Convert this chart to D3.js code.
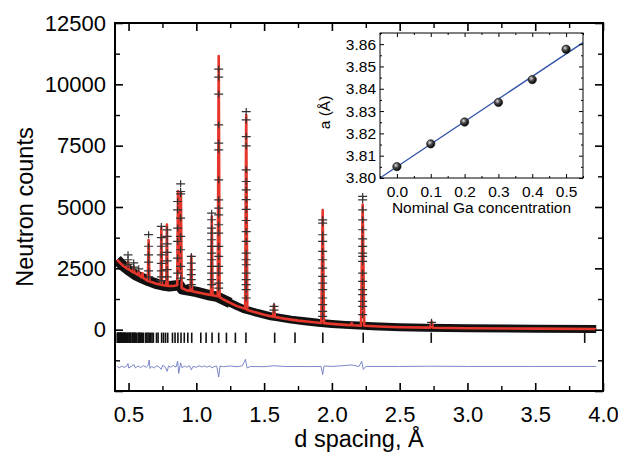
<!DOCTYPE html>
<html>
<head>
<meta charset="utf-8">
<script src="https://cdn.jsdelivr.net/npm/d3@7"></script>
<style>
  body { margin: 0; background: #fff; }
  svg { display: block; font-family: "Liberation Sans", Arial, sans-serif; }
</style>
</head>
<body>
<svg id="chart" width="618" height="457"></svg>
<script>
// ---- data ----

// background of the observed pattern (the thick black band)
const bgD = [0.415, 0.45, 0.5, 0.55, 0.6, 0.65, 0.7, 0.75, 0.8, 0.85, 0.875, 0.895, 0.95, 1.0, 1.05, 1.1, 1.15, 1.2,
             1.25, 1.3, 1.35, 1.4, 1.45, 1.5, 1.55, 1.6, 1.7, 1.8, 1.9, 2.0, 2.1, 2.2, 2.3, 2.4, 2.5, 2.7, 3.0, 3.5, 3.95];
const bgCounts = [2850, 2650, 2420, 2230, 2100, 1980, 1880, 1810, 1770, 1800, 1830, 1640, 1590, 1540, 1470, 1400, 1350, 1220,
                  1090, 960, 840, 760, 680, 610, 545, 500, 410, 340, 280, 235, 195, 165, 140, 115, 100, 80, 60, 40, 30];

// calculated profile (red line)
const calcD = [0.415, 0.45, 0.49, 0.496, 0.502, 0.533, 0.538, 0.543, 0.57, 0.575, 0.58, 0.598, 0.603, 0.608,
               0.642, 0.648, 0.654, 0.70, 0.737, 0.742, 0.747, 0.778, 0.783, 0.788, 0.83, 0.859, 0.865, 0.872,
               0.881, 0.886, 0.892, 0.93, 0.957, 0.963, 0.969, 1.0, 1.05, 1.108, 1.114, 1.120, 1.158, 1.165, 1.172,
               1.2, 1.25, 1.3, 1.36, 1.368, 1.376, 1.42, 1.5, 1.566, 1.573, 1.580, 1.65, 1.75, 1.85, 1.922, 1.932,
               1.942, 2.0, 2.1, 2.14, 2.146, 2.152, 2.215, 2.227, 2.239, 2.35, 2.5, 2.725, 2.735, 2.745, 3.0, 3.5, 3.95];
const calcCounts = [2850, 2650, 2480, 2780, 2460, 2340, 2560, 2320, 2230, 2380, 2210, 2130, 2300, 2110,
                    1990, 3650, 1970, 1880, 1830, 4140, 1820, 1790, 4280, 1780, 1780, 1810, 5650, 2400,
                    2300, 5600, 1700, 1600, 1580, 3010, 1570, 1530, 1470, 1410, 4620, 1400, 1360, 11150, 1330,
                    1230, 1090, 960, 850, 8750, 800, 730, 610, 530, 1010, 520, 450, 370, 310, 275, 4880,
                    265, 235, 195, 180, 260, 178, 160, 5100, 158, 128, 100, 82, 330, 80, 60, 42, 30];

// observed points standing out above the background, grouped by reflection
const obsPeakD = [0.496, 0.538, 0.575, 0.648, 0.742, 0.785, 0.862, 0.884, 0.963, 1.113, 1.165, 1.368, 1.573, 1.932, 2.227, 2.735];
const obsPeakCounts = [
  [3050, 2850, 2650],
  [2720, 2550],
  [2480],
  [3870, 3400, 3050, 2750, 2400, 2150],
  [4210, 3750, 3400, 3050, 2700, 2400, 2150, 2000],
  [4070, 3800, 3500, 3150, 2800, 2450, 2150],
  [5225, 4886, 4140, 3597, 2920, 2308],
  [5945, 5632, 5538, 4548, 3800, 3258, 2578, 2100],
  [2985, 2715, 2443, 2240, 2036, 1832],
  [4750, 4480, 4140, 3937, 3665, 3394, 3123, 2850, 2578, 2308, 2036, 1832],
  [10616, 10290, 9600, 8347, 7600, 7330, 6108, 5294, 4955, 4683, 4276, 3937, 3394, 2986, 2579, 2308, 1900, 1697],
  [8890, 8551, 7872, 7493, 6515, 6040, 5701, 5300, 4900, 4450, 4000, 3597, 3123, 2850, 2647, 2308, 2036, 1832, 1629, 1290],
  [950, 800],
  [4479, 4344, 3868, 3597, 3190, 2850, 2512, 2172, 1900, 1629, 1290, 1018, 745, 542],
  [5430, 5294, 4886, 4479, 4072, 3700, 3394, 3123, 2986, 2783, 2308, 1967, 1629, 1425, 1152, 949, 611],
  [300]
];

// difference curve (obs - calc, shifted)
const diffD = [0.415, 0.43, 0.45, 0.47, 0.49, 0.496, 0.50, 0.52, 0.54, 0.55, 0.57, 0.59, 0.61, 0.63, 0.645, 0.652,
               0.658, 0.67, 0.69, 0.71, 0.73, 0.742, 0.75, 0.77, 0.785, 0.795, 0.81, 0.83, 0.85, 0.862, 0.87,
               0.884, 0.895, 0.91, 0.93, 0.95, 0.963, 0.975, 1.0, 1.02, 1.04, 1.06, 1.08, 1.1, 1.113, 1.13, 1.15,
               1.165, 1.175, 1.2, 1.25, 1.3, 1.34, 1.362, 1.375, 1.4, 1.5, 1.573, 1.65, 1.8, 1.92, 1.932, 1.942,
               2.0, 2.146, 2.2, 2.22, 2.232, 2.25, 2.5, 2.735, 3.0, 3.5, 3.95];
const diffCounts = [-1480, -1560, -1490, -1540, -1460, -1380, -1560, -1500, -1420, -1560, -1480, -1540, -1470, -1530, -1450, -1240,
                    -1580, -1500, -1560, -1470, -1540, -1620, -1450, -1520, -1700, -1480, -1530, -1460, -1520, -1290, -1780,
                    -1350, -1560, -1480, -1530, -1470, -1640, -1500, -1530, -1470, -1520, -1480, -1530, -1470, -1560, -1510, -1480,
                    -1930, -1480, -1510, -1480, -1510, -1470, -1210, -1560, -1500, -1510, -1470, -1500, -1505, -1500, -1830, -1480,
                    -1500, -1440, -1500, -1290, -1620, -1500, -1500, -1490, -1500, -1500, -1500];

// Bragg reflection positions (tick row)
const braggD = [3.865, 2.733, 2.231, 1.933, 1.728, 1.578, 1.366, 1.288, 1.222, 1.165, 1.116, 1.072, 1.033, 0.966,
                0.937, 0.911, 0.887, 0.864, 0.843, 0.824, 0.789, 0.773, 0.758, 0.744, 0.718, 0.706, 0.683, 0.673,
                0.663, 0.653, 0.644, 0.635, 0.627, 0.611, 0.604, 0.596, 0.589, 0.583, 0.576, 0.570, 0.558, 0.552,
                0.547, 0.541, 0.536, 0.531, 0.526, 0.516, 0.512, 0.508, 0.503, 0.495, 0.491, 0.483, 0.479, 0.476,
                0.472, 0.469, 0.465, 0.462, 0.455, 0.452, 0.449, 0.446, 0.443, 0.440, 0.438, 0.432, 0.429, 0.427,
                0.424, 0.422, 0.419, 0.417];
const braggTop = -120, braggBottom = -540;

// inset: lattice parameter vs Ga content
const gaConc = [0.0, 0.1, 0.2, 0.3, 0.4, 0.5];
const latticeA = [3.8051, 3.8153, 3.8251, 3.8339, 3.8441, 3.8577];
const fitX = [-0.05, 0.55];
const fitA = [3.8000, 3.8607];

// ticks
const xMajor = [0.5, 1.0, 1.5, 2.0, 2.5, 3.0, 3.5, 4.0];
const xMinor = [0.75, 1.25, 1.75, 2.25, 2.75, 3.25, 3.75];
const yMajor = [-2500, 0, 2500, 5000, 7500, 10000, 12500];
const yMinor = [-1250, 1250, 3750, 6250, 8750, 11250];
const insetXMajor = [0.0, 0.1, 0.2, 0.3, 0.4, 0.5];
const insetXMinor = [-0.05, 0.05, 0.15, 0.25, 0.35, 0.45, 0.55];
const insetYMajor = [3.80, 3.81, 3.82, 3.83, 3.84, 3.85, 3.86];
const insetYMinor = [3.805, 3.815, 3.825, 3.835, 3.845, 3.855, 3.865];

// ---- drawing ----
const svg = d3.select("#chart");
const plot = { left: 115, right: 603, top: 23, bottom: 391 };

const x = d3.scaleLinear().domain([0.4, 4.0]).range([plot.left, plot.right]);
const y = d3.scaleLinear().domain([-2500, 12500]).range([plot.bottom, plot.top]);

svg.append("defs").append("clipPath").attr("id", "plotClip")
  .append("rect")
  .attr("x", plot.left).attr("y", plot.top)
  .attr("width", plot.right - plot.left).attr("height", plot.bottom - plot.top);

const data = svg.append("g").attr("clip-path", "url(#plotClip)");

// observed background band: the dense crosses merge into a black band,
// a bit wider at low d where the data are noisier
const bandLine = d3.line().x((d, i) => x(bgD[i])).y((d, i) => y(bgCounts[i]));
data.append("path")
  .attr("d", bandLine(bgD))
  .attr("fill", "none")
  .attr("stroke", "#111")
  .attr("stroke-width", 8)
  .attr("stroke-linejoin", "round");
const lowBand = bgD.filter(d => d <= 1.25);
data.append("path")
  .attr("d", d3.line().x(d => x(d)).y((d, i) => y(bgCounts[i]))(lowBand))
  .attr("fill", "none")
  .attr("stroke", "#111")
  .attr("stroke-width", 10.5)
  .attr("stroke-linejoin", "round");

// calculated profile
const calcLine = d3.line().x((d, i) => x(calcD[i])).y((d, i) => y(calcCounts[i]));
data.append("path")
  .attr("d", calcLine(calcD))
  .attr("fill", "none")
  .attr("stroke", "#e5362c")
  .attr("stroke-width", 2.6)
  .attr("stroke-linejoin", "round");

// observed points on the peaks
const obsPoints = obsPeakD.flatMap((d, i) => obsPeakCounts[i].map(c => [d, c]));
data.selectAll(".obs")
  .data(obsPoints)
  .enter()
  .append("path")
  .attr("class", "obs")
  .attr("transform", d => `translate(${x(d[0])},${y(d[1])})`)
  .attr("d", "M-4.5,0H4.5M0,-3.5V3.5")
  .attr("stroke", "#333")
  .attr("stroke-width", 1.2)
  .attr("fill", "none");

// Bragg tick row
data.selectAll(".bragg")
  .data(braggD)
  .enter()
  .append("line")
  .attr("class", "bragg")
  .attr("x1", d => x(d)).attr("x2", d => x(d))
  .attr("y1", y(braggTop)).attr("y2", y(braggBottom))
  .attr("stroke", "#111")
  .attr("stroke-width", 1.6);

// difference curve
const diffLine = d3.line().x((d, i) => x(diffD[i])).y((d, i) => y(diffCounts[i]));
data.append("path")
  .attr("d", diffLine(diffD))
  .attr("fill", "none")
  .attr("stroke", "#6573c0")
  .attr("stroke-width", 1)
  .attr("opacity", 0.85);

// axes, ticks pointing inward
function styleAxis(g, fontSize) {
  g.select(".domain").remove();
  g.attr("font-family", null).attr("font-size", fontSize);
  g.selectAll("text").attr("fill", "#000");
  g.selectAll("line").attr("stroke", "#000");
}

svg.append("g")
  .attr("transform", `translate(0,${plot.bottom})`)
  .call(d3.axisBottom(x).tickValues(xMajor).tickSizeInner(-8).tickSizeOuter(0).tickPadding(15).tickFormat(d3.format(".1f")))
  .call(g => styleAxis(g, 22))
  .selectAll("line").attr("stroke-width", 1.6);
svg.append("g")
  .attr("transform", `translate(0,${plot.bottom})`)
  .call(d3.axisBottom(x).tickValues(xMinor).tickSizeInner(-5).tickSizeOuter(0).tickFormat(""))
  .call(g => styleAxis(g, 22))
  .selectAll("line").attr("stroke-width", 1.4);
svg.append("g")
  .attr("transform", `translate(0,${plot.top})`)
  .call(d3.axisTop(x).tickValues(xMajor).tickSizeInner(-8).tickSizeOuter(0).tickFormat(""))
  .call(g => styleAxis(g, 22))
  .selectAll("line").attr("stroke-width", 1.6);
svg.append("g")
  .attr("transform", `translate(0,${plot.top})`)
  .call(d3.axisTop(x).tickValues(xMinor).tickSizeInner(-5).tickSizeOuter(0).tickFormat(""))
  .call(g => styleAxis(g, 22))
  .selectAll("line").attr("stroke-width", 1.4);

svg.append("g")
  .attr("transform", `translate(${plot.left},0)`)
  .call(d3.axisLeft(y).tickValues(yMajor).tickSizeInner(-8).tickSizeOuter(0).tickPadding(9)
    .tickFormat(d => d < 0 ? "" : d))
  .call(g => styleAxis(g, 22))
  .selectAll("line").attr("stroke-width", 1.6);
svg.append("g")
  .attr("transform", `translate(${plot.left},0)`)
  .call(d3.axisLeft(y).tickValues(yMinor).tickSizeInner(-5).tickSizeOuter(0).tickFormat(""))
  .call(g => styleAxis(g, 22))
  .selectAll("line").attr("stroke-width", 1.4);
svg.append("g")
  .attr("transform", `translate(${plot.right},0)`)
  .call(d3.axisRight(y).tickValues(yMajor).tickSizeInner(-8).tickSizeOuter(0).tickFormat(""))
  .call(g => styleAxis(g, 22))
  .selectAll("line").attr("stroke-width", 1.6);
svg.append("g")
  .attr("transform", `translate(${plot.right},0)`)
  .call(d3.axisRight(y).tickValues(yMinor).tickSizeInner(-5).tickSizeOuter(0).tickFormat(""))
  .call(g => styleAxis(g, 22))
  .selectAll("line").attr("stroke-width", 1.4);

svg.append("rect")
  .attr("x", plot.left).attr("y", plot.top)
  .attr("width", plot.right - plot.left).attr("height", plot.bottom - plot.top)
  .attr("fill", "none")
  .attr("stroke", "#000")
  .attr("stroke-width", 2);

svg.append("text")
  .attr("transform", `translate(33,${(plot.top + plot.bottom) / 2}) rotate(-90)`)
  .attr("text-anchor", "middle")
  .attr("font-size", 23.5)
  .text("Neutron counts");

svg.append("text")
  .attr("x", (plot.left + plot.right) / 2)
  .attr("y", 447)
  .attr("text-anchor", "middle")
  .attr("font-size", 23.5)
  .text("d spacing, Å");

// ---- inset ----
const inset = { left: 380, right: 583, top: 33, bottom: 178 };
const ix = d3.scaleLinear().domain([-0.05, 0.55]).range([inset.left, inset.right]);
const iy = d3.scaleLinear().domain([3.80, 3.865]).range([inset.bottom, inset.top]);

const ins = svg.append("g");
ins.append("rect")
  .attr("x", inset.left).attr("y", inset.top)
  .attr("width", inset.right - inset.left).attr("height", inset.bottom - inset.top)
  .attr("fill", "#fff");

const grad = svg.select("defs").append("radialGradient")
  .attr("id", "ball").attr("cx", "38%").attr("cy", "35%").attr("r", "65%");
grad.append("stop").attr("offset", "0%").attr("stop-color", "#e0e0e0");
grad.append("stop").attr("offset", "45%").attr("stop-color", "#4a4a4a");
grad.append("stop").attr("offset", "100%").attr("stop-color", "#000");

ins.append("path")
  .attr("d", d3.line().x((d, i) => ix(fitX[i])).y((d, i) => iy(fitA[i]))(fitX))
  .attr("fill", "none")
  .attr("stroke", "#2f52a8")
  .attr("stroke-width", 1.3);

ins.selectAll(".pt")
  .data(gaConc)
  .enter()
  .append("circle")
  .attr("class", "pt")
  .attr("cx", d => ix(d))
  .attr("cy", (d, i) => iy(latticeA[i]))
  .attr("r", 4.2)
  .attr("fill", "url(#ball)")
  .attr("stroke", "#111")
  .attr("stroke-width", 0.6);

ins.append("g")
  .attr("transform", `translate(0,${inset.bottom})`)
  .call(d3.axisBottom(ix).tickValues(insetXMajor).tickSizeInner(-4).tickSizeOuter(0).tickPadding(8).tickFormat(d3.format(".1f")))
  .call(g => styleAxis(g, 15.5));
ins.append("g")
  .attr("transform", `translate(0,${inset.bottom})`)
  .call(d3.axisBottom(ix).tickValues(insetXMinor).tickSizeInner(-2).tickSizeOuter(0).tickFormat(""))
  .call(g => styleAxis(g, 15.5));
ins.append("g")
  .attr("transform", `translate(0,${inset.top})`)
  .call(d3.axisTop(ix).tickValues(insetXMajor).tickSizeInner(-4).tickSizeOuter(0).tickFormat(""))
  .call(g => styleAxis(g, 15.5));
ins.append("g")
  .attr("transform", `translate(0,${inset.top})`)
  .call(d3.axisTop(ix).tickValues(insetXMinor).tickSizeInner(-2).tickSizeOuter(0).tickFormat(""))
  .call(g => styleAxis(g, 15.5));
ins.append("g")
  .attr("transform", `translate(${inset.left},0)`)
  .call(d3.axisLeft(iy).tickValues(insetYMajor).tickSizeInner(-4).tickSizeOuter(0).tickPadding(4).tickFormat(d3.format(".2f")))
  .call(g => styleAxis(g, 15.5));
ins.append("g")
  .attr("transform", `translate(${inset.left},0)`)
  .call(d3.axisLeft(iy).tickValues(insetYMinor).tickSizeInner(-2).tickSizeOuter(0).tickFormat(""))
  .call(g => styleAxis(g, 15.5));
ins.append("g")
  .attr("transform", `translate(${inset.right},0)`)
  .call(d3.axisRight(iy).tickValues(insetYMajor).tickSizeInner(-4).tickSizeOuter(0).tickFormat(""))
  .call(g => styleAxis(g, 15.5));
ins.append("g")
  .attr("transform", `translate(${inset.right},0)`)
  .call(d3.axisRight(iy).tickValues(insetYMinor).tickSizeInner(-2).tickSizeOuter(0).tickFormat(""))
  .call(g => styleAxis(g, 15.5));

ins.append("rect")
  .attr("x", inset.left).attr("y", inset.top)
  .attr("width", inset.right - inset.left).attr("height", inset.bottom - inset.top)
  .attr("fill", "none")
  .attr("stroke", "#000")
  .attr("stroke-width", 1);

ins.append("text")
  .attr("x", (inset.left + inset.right) / 2)
  .attr("y", 213)
  .attr("text-anchor", "middle")
  .attr("font-size", 15.5)
  .text("Nominal Ga concentration");

ins.append("text")
  .attr("transform", `translate(330,${(inset.top + inset.bottom) / 2 + 7}) rotate(-90)`)
  .attr("text-anchor", "middle")
  .attr("font-size", 15.5)
  .text("a (Å)");
</script>
</body>
</html>
